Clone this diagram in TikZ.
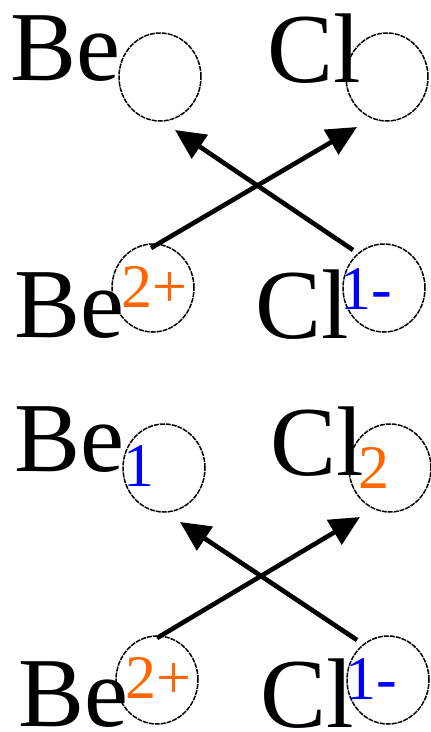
\documentclass[tikz,border=0pt]{standalone}
\usepackage{fontspec}
\setmainfont{Liberation Serif}
\usetikzlibrary{arrows.meta,shapes.geometric}
\definecolor{myorange}{RGB}{255,102,0}
\definecolor{myblue}{RGB}{0,0,255}
\tikzset{
    atom/.style={
        anchor=base west,
        inner sep=0pt,
        font=\fontsize{99}{99}\selectfont
    },
    chg/.style={
        anchor=base west,
        inner sep=0pt,
        font=\fontsize{62}{62}\selectfont
    },
    orb/.style={
        ellipse,
        draw,
        line width=1.5pt,
        dash pattern=on 5pt off 1pt,
        minimum width=82pt,
        minimum height=88pt,
        inner sep=0pt
    },
    arr/.style={-{Triangle[length=30pt,width=28pt]},line width=4.6pt}
}
\begin{document}
\begin{tikzpicture}[x=1pt,y=-1pt]
\useasboundingbox (0,0) rectangle (431,732);
% upper pair
\node[orb] (o1) at (160,77) {};
\node[orb] (o2) at (387,77) {};
\node[atom] (be1) at (10,80) {Be};
\node[atom] (cl1) at (267,82) {Cl};
\node[orb] (o3) at (153,288) {};
\node[orb] (o4) at (384,288) {};
\node[atom] (be2) at (14,337) {Be};
\node[chg,myorange] (q1) at (121,307) {2+};
\node[atom] (cl2) at (255,338) {Cl};
\node[chg,myblue] (q2) at (340,309) {1-};
\coordinate (s1) at (353,250);
\coordinate (t1) at (175,130);
\coordinate (s2) at (151,248);
\coordinate (t2) at (357,127);
\draw[arr] (s1) -- (t1);
\draw[arr] (s2) -- (t2);
% lower pair
\node[orb] (o5) at (164,468) {};
\node[orb] (o6) at (390,468) {};
\node[atom] (be3) at (14,471) {Be};
\node[chg,myblue] (q3) at (123,486) {1};
\node[atom] (cl3) at (270,475) {Cl};
\node[chg,myorange] (q4) at (358,488) {2};
\node[orb] (o7) at (157,680) {};
\node[orb] (o8) at (388,680) {};
\node[atom] (be4) at (18,726) {Be};
\node[chg,myorange] (q5) at (125,698) {2+};
\node[atom] (cl4) at (260,727) {Cl};
\node[chg,myblue] (q6) at (345,699) {1-};
\coordinate (s3) at (357,640);
\coordinate (t3) at (180,522);
\coordinate (s4) at (157,638);
\coordinate (t4) at (360,517);
\draw[arr] (s3) -- (t3);
\draw[arr] (s4) -- (t4);
\end{tikzpicture}
\end{document}
